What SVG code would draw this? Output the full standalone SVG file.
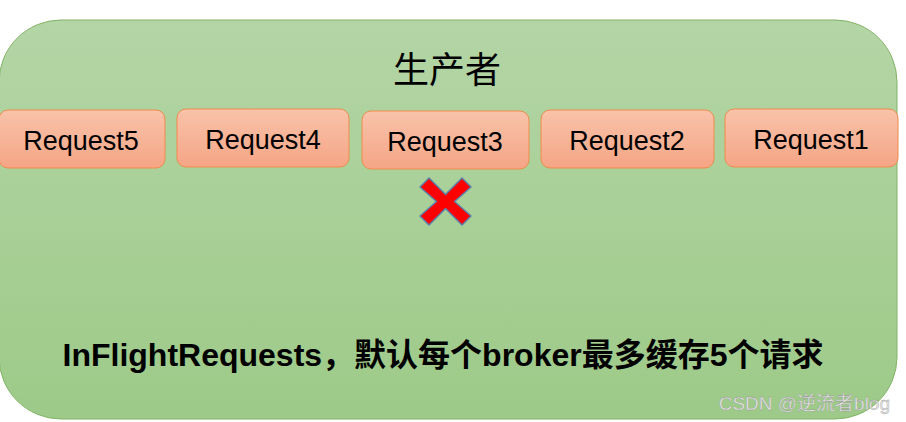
<svg xmlns="http://www.w3.org/2000/svg" width="906" height="422" viewBox="0 0 906 422">
<defs>
<linearGradient id="gbg" x1="0" y1="0" x2="0" y2="1"><stop offset="0" stop-color="#b4d5a6"/><stop offset="1" stop-color="#9dca88"/></linearGradient>
<linearGradient id="greq" x1="0" y1="0" x2="0" y2="1"><stop offset="0" stop-color="#f8c3aa"/><stop offset="1" stop-color="#f5a585"/></linearGradient>
<style>
.req{fill:url(#greq);stroke:#ef8b4c;stroke-width:1}
.rt{font-family:"Liberation Sans",Arial,sans-serif;font-size:27px;fill:#000;text-anchor:middle}
</style>
</defs>
<rect width="906" height="422" fill="#fff"/>
<g id="producer">
<rect x="-1" y="20" width="898" height="399" rx="62" ry="62" fill="url(#gbg)" stroke="#82b366" stroke-width="1"/>
<text x="447" y="83" font-family="'Noto Sans CJK SC',sans-serif" font-size="36" text-anchor="middle" fill="#000">生产者</text>
</g>
<g id="request5"><rect class="req" x="-1" y="110" width="166" height="58" rx="9"/><text class="rt" x="81" y="150">Request5</text></g>
<g id="request4"><rect class="req" x="177" y="109" width="172" height="58" rx="9"/><text class="rt" x="263" y="149">Request4</text></g>
<g id="request3"><rect class="req" x="362" y="111" width="167" height="58" rx="9"/><text class="rt" x="445" y="151">Request3</text></g>
<g id="request2"><rect class="req" x="541" y="110" width="173" height="58" rx="9"/><text class="rt" x="627" y="150">Request2</text></g>
<g id="request1"><rect class="req" x="725" y="109" width="173" height="58" rx="9"/><text class="rt" x="811" y="149">Request1</text></g>
<g id="cross">
<polygon points="420,187 429,178 445.5,194.5 462,178 471,187 454.5,201.5 471,216 462,225 445.5,208.5 429,225 420,216 436.5,201.5" fill="#ff0000" stroke="#5a7fa8" stroke-width="1.5" stroke-linejoin="round"/>
</g>
<g id="caption">
<text x="443" y="366" font-family="'Liberation Sans','Noto Sans CJK SC',sans-serif" font-size="32" font-weight="bold" text-anchor="middle" fill="#000">InFlightRequests，默认每个broker最多缓存5个请求</text>
</g>
<text x="890" y="410" font-family="'Liberation Sans','Noto Sans CJK SC',sans-serif" font-size="19" text-anchor="end" fill="#e4e4e4" stroke="#8c8c8c" stroke-width="0.3">CSDN @逆流者blog</text>
</svg>
